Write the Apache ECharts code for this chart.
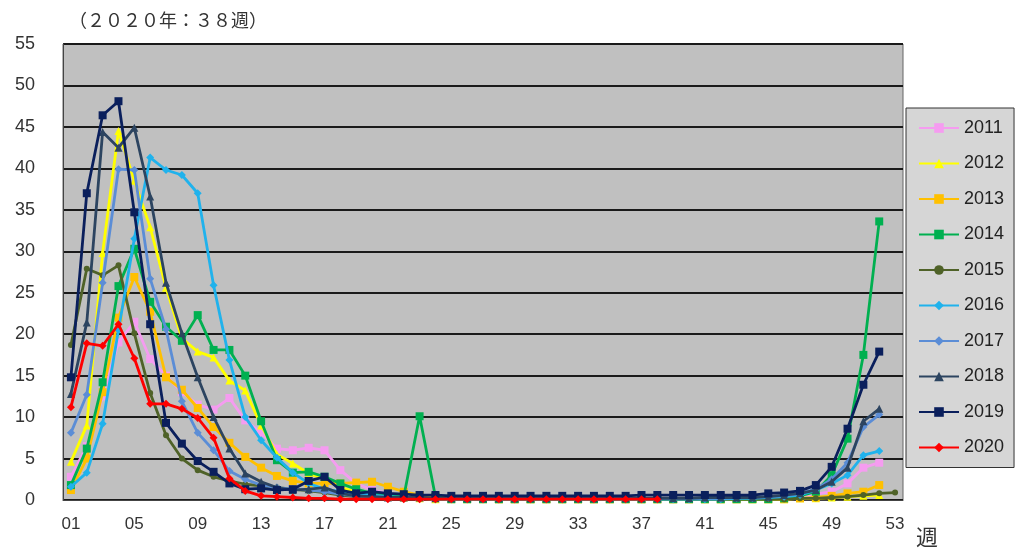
<!DOCTYPE html>
<html>
<head>
<meta charset="utf-8">
<script src="https://cdn.jsdelivr.net/npm/echarts@6/dist/echarts.min.js"></script>
<style>
html,body{margin:0;padding:0;background:#fff;}
#chart{width:1016px;height:554px;}
</style>
</head>
<body>
<div id="chart"></div>
<script>
const weeks = ['01','02','03','04','05','06','07','08','09','10','11','12','13','14','15','16','17','18','19','20','21','22','23','24','25','26','27','28','29','30','31','32','33','34','35','36','37','38','39','40','41','42','43','44','45','46','47','48','49','50','51','52','53'];
const yTicks = [0,5,10,15,20,25,30,35,40,45,50,55];
const titleText = '（２０２０年：３８週）';
const xName = '週';
const seriesNames = ['2011','2012','2013','2014','2015','2016','2017','2018','2019','2020'];

const y2011 = [2.8,6.5,12.5,19.0,21.5,17.0,15.0,13.0,11.5,10.9,12.3,9.6,8.1,6.2,6.0,6.3,6.0,3.6,2.0,1.2,
  0.8,0.5,0.3,0.2,0.1,0.1,0.1,0.1,0.1,0.1,0.1,0.1,0.1,0.1,0.1,0.1,0.1,0.1,0.1,0.1,0.1,0.1,0.1,0.2,
  0.2,0.3,0.5,0.7,1.0,2.0,3.9,4.5];
const y2012 = [4.6,9.0,29.8,44.5,38.5,32.9,25.6,19.5,17.9,17.2,14.4,13.2,9.0,5.5,4.4,3.2,2.5,1.5,1.0,0.6,
  0.4,0.3,0.2,0.1,0.1,0.1,0.1,0.1,0.1,0.1,0.1,0.1,0.1,0.1,0.1,0.1,0.1,0.1,0.1,0.1,0.1,0.1,0.1,0.1,
  0.1,0.1,0.2,0.2,0.3,0.4,0.5,0.6];
const y2013 = [1.2,5.0,13.0,22.0,26.9,22.7,14.8,13.3,11.1,8.8,6.9,5.2,3.9,2.9,2.3,2.0,2.0,2.0,2.1,2.2,
  1.6,1.0,0.6,0.4,0.3,0.2,0.2,0.1,0.1,0.1,0.1,0.1,0.1,0.1,0.1,0.1,0.1,0.1,0.1,0.1,0.1,0.1,0.1,0.1,
  0.1,0.1,0.2,0.3,0.5,0.8,1.0,1.8];
const y2014 = [1.8,6.2,14.2,25.8,30.3,23.9,20.9,19.2,22.3,18.1,18.1,15.0,9.5,4.8,3.3,3.4,2.8,2.0,1.3,0.8,
  0.6,0.4,10.1,0.4,0.1,0.1,0.1,0.1,0.1,0.1,0.1,0.1,0.1,0.1,0.1,0.1,0.1,0.1,0.1,0.1,0.1,0.1,0.1,0.1,
  0.1,0.2,0.5,1.0,3.0,7.4,17.5,33.6];
const y2015 = [18.7,27.9,27.1,28.3,20.1,12.9,7.8,5.0,3.6,2.8,2.3,1.9,1.7,1.5,1.3,1.1,0.9,0.6,0.4,0.3,
  0.2,0.2,0.2,0.1,0.1,0.1,0.1,0.1,0.1,0.1,0.1,0.1,0.1,0.1,0.1,0.1,0.1,0.1,0.1,0.1,0.1,0.1,0.1,0.1,
  0.1,0.1,0.2,0.2,0.3,0.4,0.6,0.8,0.9];
const y2016 = [1.6,3.3,9.2,20.5,31.5,41.3,39.8,39.2,37.0,25.9,16.9,10.0,7.2,5.1,3.3,2.0,1.3,1.0,0.8,0.6,
  0.4,0.3,0.2,0.1,0.1,0.1,0.1,0.1,0.1,0.1,0.1,0.1,0.1,0.1,0.1,0.1,0.1,0.1,0.1,0.1,0.1,0.1,0.2,0.2,
  0.3,0.4,0.6,1.2,2.0,3.0,5.4,5.9];
const y2017 = [8.1,12.7,26.2,39.9,39.8,26.7,20.6,11.9,8.1,6.0,3.5,2.5,1.8,1.5,1.3,1.2,1.0,0.7,0.5,0.4,
  0.3,0.3,0.2,0.2,0.2,0.2,0.2,0.2,0.2,0.2,0.2,0.2,0.2,0.2,0.2,0.2,0.2,0.2,0.2,0.2,0.2,0.2,0.3,0.3,
  0.4,0.5,0.8,1.3,2.5,4.5,8.8,10.3];
const y2018 = [12.8,21.4,44.4,42.5,44.9,36.6,26.2,20.1,14.8,10.0,6.2,3.2,2.2,1.5,1.2,1.3,1.5,0.8,0.5,0.4,
  0.3,0.3,0.3,0.2,0.2,0.2,0.2,0.2,0.2,0.2,0.2,0.2,0.2,0.2,0.2,0.2,0.2,0.2,0.2,0.2,0.3,0.3,0.3,0.3,
  0.4,0.6,0.8,1.2,2.2,3.9,9.5,11.0];
const y2019 = [14.8,37.0,46.4,48.1,34.7,21.2,9.3,6.8,4.7,3.4,2.0,1.3,1.4,1.2,1.3,2.3,2.8,1.2,0.8,1.0,
  0.8,0.7,0.6,0.6,0.5,0.5,0.5,0.5,0.5,0.5,0.5,0.5,0.5,0.5,0.5,0.5,0.6,0.6,0.6,0.6,0.6,0.6,0.6,0.6,
  0.8,0.9,1.1,1.8,4.0,8.6,13.9,17.9];
const y2020 = [11.2,18.9,18.6,21.2,17.1,11.6,11.6,11.0,9.9,7.5,2.6,1.1,0.5,0.4,0.3,0.2,0.2,0.1,0.1,0.1,
  0.1,0.1,0.1,0.1,0.1,0.1,0.1,0.1,0.1,0.1,0.1,0.1,0.1,0.1,0.1,0.1,0.1,0.1];

const seriesData = [y2011,y2012,y2013,y2014,y2015,y2016,y2017,y2018,y2019,y2020];
const colors = ['#F59CF0','#FFFF00','#FFC000','#00B050','#4F6228','#20B2EC','#5B8DD6','#2C4460','#0A1F5C','#FF0000'];
const symbols = ['rect','triangle','rect','rect','circle','diamond','diamond','triangle','rect','diamond'];

const chart = echarts.init(document.getElementById('chart'));
const series = seriesNames.map((n,i)=>({
  name: n,
  type: 'line',
  data: seriesData[i],
  symbol: symbols[i],
  symbolSize: symbols[i]==='circle' ? 6 : 8,
  showSymbol: true,
  lineStyle: {color: colors[i], width: 2.8},
  itemStyle: {color: colors[i]},
  emphasis: {disabled: true},
  animation: false,
  z: 2 + i
}));

chart.setOption({
  animation: false,
  backgroundColor: '#ffffff',
  title: {
    text: titleText,
    left: 64, top: 6,
    textStyle: {fontFamily: 'Noto Sans CJK JP', fontSize: 18, fontWeight: 'normal', color: '#333'}
  },
  grid: {
    left: 63, right: 113, top: 44, bottom: 54,
    show: true, backgroundColor: '#C0C0C0', borderColor: '#666', borderWidth: 1
  },
  legend: {
    orient: 'vertical',
    left: 906, top: 108,
    data: seriesNames,
    itemWidth: 40, itemHeight: 12,
    itemGap: 15.5,
    padding: [10, 10, 10, 12],
    backgroundColor: '#D6D6D6',
    borderColor: '#333', borderWidth: 1,
    textStyle: {fontFamily: 'Liberation Sans', fontSize: 18, color: '#222', lineHeight: 20}
  },
  xAxis: {
    type: 'category',
    data: weeks,
    boundaryGap: true,
    axisLine: {lineStyle: {color: '#444', width: 1}},
    axisTick: {inside: true, length: 6, interval: 0, lineStyle: {color: '#444'}},
    axisLabel: {interval: 3, fontFamily: 'Liberation Sans Narrow, Liberation Sans', fontSize: 17, color: '#333', margin: 16},
    splitLine: {show: false}
  },
  yAxis: {
    type: 'value',
    min: 0, max: 55, interval: 5,
    axisLine: {show: true, lineStyle: {color: '#444'}},
    axisTick: {show: false},
    axisLabel: {fontFamily: 'Liberation Sans', fontSize: 18, color: '#333', margin: 28,
      formatter: v => yTicks.indexOf(v) >= 0 ? String(v) : ''},
    splitLine: {lineStyle: {color: '#1a1a1a', width: 2}}
  },
  graphic: [{
    type: 'text', left: 916, top: 526,
    style: {text: xName, fontFamily: 'Noto Sans CJK JP', fontSize: 22, fill: '#333'}
  }],
  series: series
});
</script>
</body>
</html>
